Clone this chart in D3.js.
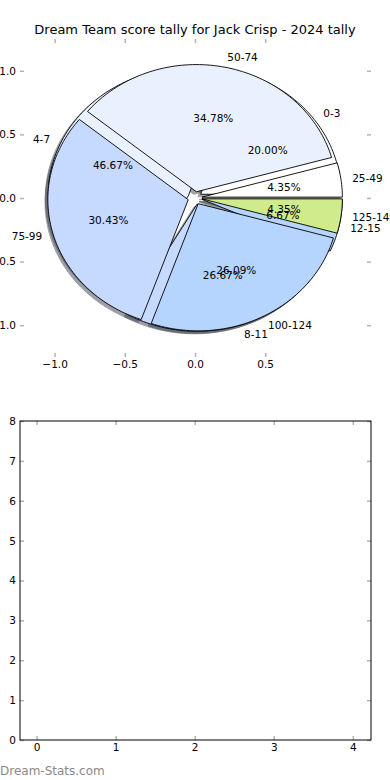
<!DOCTYPE html>
<html>
<head>
<meta charset="utf-8">
<script src="https://cdn.jsdelivr.net/npm/d3@7"></script>
<style>
  body { margin: 0; background: #fff; }
  svg { display: block; font-family: "DejaVu Sans", sans-serif; }
</style>
</head>
<body>
<svg id="chart" width="390" height="780"></svg>
<script>
// score tally, two pies drawn on the same axes
var labels1 = ["0-3", "4-7", "8-11", "12-15"];
var values1 = [3, 7, 4, 1];
var labels2 = ["25-49", "50-74", "75-99", "100-124", "125-149"];
var values2 = [1, 8, 7, 6, 1];
var colors = ["#ffffff", "#eaf1fe", "#c6d9fe", "#b5d5fe", "#d0eb8b"];

var pieXTicks = [-1.0, -0.5, 0.0, 0.5];
var pieYTicks = [-1.0, -0.5, 0.0, 0.5, 1.0];
var barXTicks = [0, 1, 2, 3, 4];
var barYTicks = [0, 1, 2, 3, 4, 5, 6, 7, 8];

var explode = 0.05;
var shadowOff = -0.02;
var labelDist = 1.08;
var pctDist = 0.59;

var svg = d3.select("#chart");

svg.append("text")
  .attr("x", 195)
  .attr("y", 34)
  .attr("text-anchor", "middle")
  .attr("font-size", 13)
  .text("Dream Team score tally for Jack Crisp - 2024 tally");

// pie axes
var x = d3.scaleLinear().domain([-1.25, 1.25]).range([19.5, 370.5]);
var y = d3.scaleLinear().domain([-1.25, 1.25]).range([357, 39]);

var line = d3.line()
  .x(function(p) { return x(p[0]); })
  .y(function(p) { return y(p[1]); });

var pie = d3.pie().sort(null).value(function(d) { return d; });

function wedgePath(d, dx, dy) {
  var mid = (d.startAngle + d.endAngle) / 2;
  var cx = explode * Math.cos(mid) + dx;
  var cy = explode * Math.sin(mid) + dy;
  var n = Math.max(2, Math.ceil((d.endAngle - d.startAngle) / (2 * Math.PI) * 240));
  var pts = [[cx, cy]];
  for (var i = 0; i <= n; i++) {
    var t = d.startAngle + (d.endAngle - d.startAngle) * i / n;
    pts.push([cx + Math.cos(t), cy + Math.sin(t)]);
  }
  return line(pts) + "Z";
}

var arcs1 = pie(values1);
var arcs2 = pie(values2);

var gPie = svg.append("g");

// shadows first, both pies
[arcs1, arcs2].forEach(function(arcs) {
  gPie.selectAll(null)
    .data(arcs)
    .enter()
    .append("path")
    .attr("d", function(d) { return wedgePath(d, shadowOff, shadowOff); })
    .each(function(d, i) {
      var c = d3.rgb(colors[i]);
      var s = d3.rgb(c.r * 0.3, c.g * 0.3, c.b * 0.3);
      d3.select(this).attr("fill", s).attr("stroke", s);
    })
    .attr("opacity", 0.5)
    .attr("stroke-width", 1);
});

[arcs1, arcs2].forEach(function(arcs) {
  gPie.selectAll(null)
    .data(arcs)
    .enter()
    .append("path")
    .attr("d", function(d) { return wedgePath(d, 0, 0); })
    .attr("fill", function(d, i) { return colors[i]; })
    .attr("stroke", "#000")
    .attr("stroke-width", 0.9)
    .attr("stroke-linejoin", "round");
});

function addLabels(arcs, labels) {
  arcs.forEach(function(d, i) {
    var mid = (d.startAngle + d.endAngle) / 2;
    var cx = explode * Math.cos(mid);
    var cy = explode * Math.sin(mid);
    var lx = cx + labelDist * Math.cos(mid);
    var ly = cy + labelDist * Math.sin(mid);
    gPie.append("text")
      .attr("x", x(lx))
      .attr("y", y(ly))
      .attr("dy", "0.35em")
      .attr("text-anchor", lx > 0 ? "start" : "end")
      .attr("font-size", 10.5)
      .text(labels[i]);
    var pct = (d.endAngle - d.startAngle) / (2 * Math.PI) * 100;
    gPie.append("text")
      .attr("x", x(cx + pctDist * Math.cos(mid)))
      .attr("y", y(cy + pctDist * Math.sin(mid)))
      .attr("dy", "0.35em")
      .attr("text-anchor", "middle")
      .attr("font-size", 10.5)
      .text(pct.toFixed(2) + "%");
  });
}
addLabels(arcs1, labels1);
addLabels(arcs2, labels2);

function styleAxis(g, noText) {
  g.select(".domain").remove();
  g.selectAll(".tick line").attr("stroke", "#b3b3b3").attr("stroke-width", 1.5);
  g.selectAll(".tick text")
    .attr("font-family", "DejaVu Sans, sans-serif")
    .attr("font-size", 10.5)
    .attr("fill", "#000");
  if (noText) g.selectAll(".tick text").remove();
}

var fmt1 = d3.format(".1f");

svg.append("g").attr("transform", "translate(0,357)")
  .call(d3.axisBottom(x).tickValues(pieXTicks).tickFormat(fmt1).tickSize(-4).tickPadding(4))
  .call(styleAxis);
svg.append("g").attr("transform", "translate(0,39)")
  .call(d3.axisTop(x).tickValues(pieXTicks).tickSize(-4))
  .call(styleAxis, true);
svg.append("g").attr("transform", "translate(20,0)")
  .call(d3.axisLeft(y).tickValues(pieYTicks).tickFormat(fmt1).tickSize(-4).tickPadding(4))
  .call(styleAxis);
svg.append("g").attr("transform", "translate(371,0)")
  .call(d3.axisRight(y).tickValues(pieYTicks).tickSize(-4))
  .call(styleAxis, true);

// second, empty axes
var x2 = d3.scaleLinear().domain([-0.21, 4.23]).range([20, 371]);
var y2 = d3.scaleLinear().domain([0, 8]).range([740, 421]);

svg.append("g").attr("transform", "translate(0,740)")
  .call(d3.axisBottom(x2).tickValues(barXTicks).tickFormat(d3.format("d")).tickSize(-4).tickPadding(4))
  .call(styleAxis);
svg.append("g").attr("transform", "translate(0,421)")
  .call(d3.axisTop(x2).tickValues(barXTicks).tickSize(-4))
  .call(styleAxis, true);
svg.append("g").attr("transform", "translate(20,0)")
  .call(d3.axisLeft(y2).tickValues(barYTicks).tickFormat(d3.format("d")).tickSize(-4).tickPadding(4))
  .call(styleAxis);
svg.append("g").attr("transform", "translate(371,0)")
  .call(d3.axisRight(y2).tickValues(barYTicks).tickSize(-4))
  .call(styleAxis, true);

svg.append("rect")
  .attr("x", x2.range()[0])
  .attr("y", y2.range()[1])
  .attr("width", x2.range()[1] - x2.range()[0])
  .attr("height", y2.range()[0] - y2.range()[1])
  .attr("fill", "none")
  .attr("stroke", "#000")
  .attr("stroke-width", 1);

svg.append("text")
  .attr("x", 0)
  .attr("y", 775)
  .attr("font-size", 12)
  .attr("fill", "#8a8a8a")
  .text("Dream-Stats.com");
</script>
</body>
</html>
